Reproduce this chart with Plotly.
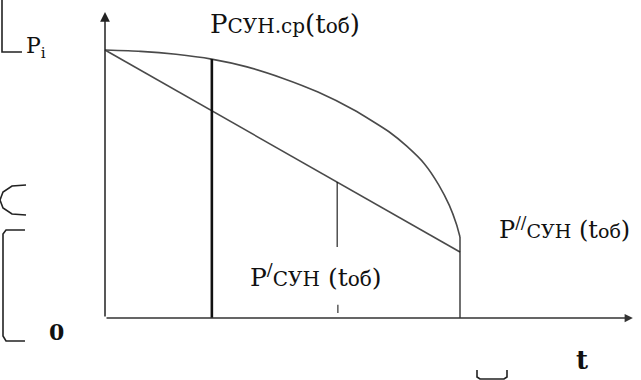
import plotly.graph_objects as go

# ---- data (normalised time t and power P) ----
t_curve = [0.0, 0.1, 0.2, 0.3, 0.4, 0.5, 0.6, 0.7, 0.8, 0.85, 0.9, 0.94, 0.97, 0.99, 1.0]
p_curve = [1.0, 0.995, 0.984, 0.966, 0.937, 0.895, 0.843, 0.777, 0.695, 0.641, 0.575, 0.497, 0.420, 0.350, 0.302]

t_line = [0.0, 1.0]
p_line = [1.0, 0.246]

# vertical guide lines: position, bottom, top
guide_t = [0.301, 0.654, 1.0]
guide_bottom = [0.0, 0.265, 0.0]
guide_top = [0.966, 0.507, 0.302]
guide_width = [2.6, 1.1, 1.2]

tick_t = [0.656]
tick_p = [(0.019, 0.049)]

axis_x_end = 1.487
axis_y_end = 1.142

W, H = 641, 380
x_range = [-105 / 355, (W - 105) / 355]
y_range = [(318 - H) / 268, 318 / 268]

def px(x):
    return x / W

def py(y):
    return 1 - y / H

fig = go.Figure()

fig.add_trace(go.Scatter(x=t_curve, y=p_curve, mode="lines", line=dict(color="#4a4a4a", width=1.6, shape="spline", smoothing=0.6), hoverinfo="skip"))
fig.add_trace(go.Scatter(x=t_line, y=p_line, mode="lines", line=dict(color="#4a4a4a", width=1.6), hoverinfo="skip"))

for t, b, tp, w in zip(guide_t, guide_bottom, guide_top, guide_width):
    fig.add_trace(go.Scatter(x=[t, t], y=[b, tp], mode="lines", line=dict(color="#111", width=w), hoverinfo="skip"))
for t, (b, tp) in zip(tick_t, tick_p):
    fig.add_trace(go.Scatter(x=[t, t], y=[b, tp], mode="lines", line=dict(color="#333", width=1.2), hoverinfo="skip"))

# axes with arrows
fig.add_annotation(x=axis_x_end, y=0, ax=0, ay=0, axref="x", ayref="y", xref="x", yref="y",
                   text="", showarrow=True, arrowhead=2, arrowsize=1.1, arrowwidth=1.5, arrowcolor="#333")
fig.add_annotation(x=0, y=axis_y_end, ax=0, ay=0, axref="x", ayref="y", xref="x", yref="y",
                   text="", showarrow=True, arrowhead=2, arrowsize=1.3, arrowwidth=1.5, arrowcolor="#222")

serif = "DejaVu Serif"
small = '<span style="font-size:{}px">{}</span>'

labels = [
    (0.290, 1.097, "P" + small.format(20, "СУН.ср") + "(t" + small.format(20, "об") + ")", 26),
    (1.104, 0.336, "P<sup>//</sup>" + small.format(19, "СУН") + " (t" + small.format(19, "об") + ")", 24),
    (0.403, 0.157, "P<sup>/</sup>" + small.format(20, "СУН") + " (t" + small.format(20, "об") + ")", 25),
]
for x, y, txt, sz in labels:
    fig.add_annotation(x=x, y=y, xref="x", yref="y", text=txt, showarrow=False,
                       xanchor="left", yanchor="middle", font=dict(family=serif, size=sz, color="#111"))

fig.add_annotation(x=px(24), y=py(47), xref="paper", yref="paper", text="P<sub>i</sub>", showarrow=False,
                   xanchor="left", yanchor="middle", font=dict(family=serif, size=22, color="#111"))
fig.add_annotation(x=px(56), y=py(332), xref="paper", yref="paper", text="<b>0</b>", showarrow=False,
                   xanchor="center", yanchor="middle", font=dict(family=serif, size=22, color="#111"))
fig.add_annotation(x=px(582), y=py(360), xref="paper", yref="paper", text="<b>t</b>", showarrow=False,
                   xanchor="center", yanchor="middle", font=dict(family=serif, size=26, color="#111"))

# scan artefacts (brackets of the surrounding page)
def path(points):
    return "M " + " L ".join(f"{px(x):.5f},{py(y):.5f}" for x, y in points)

deco = [
    [(2, 0), (2, 52), (22, 52)],
    [(26, 185), (12, 186), (3, 192), (0, 200), (3, 208), (12, 214), (26, 215)],
    [(25, 230), (6, 230), (3, 234), (3, 336), (6, 341), (25, 341)],
    [(477, 370), (477, 377), (480, 379), (504, 379), (507, 377), (507, 370)],
]
for pts in deco:
    fig.add_shape(type="path", xref="paper", yref="paper", path=path(pts),
                  line=dict(color="#222", width=1.6))

fig.update_layout(
    width=W, height=H, autosize=False,
    margin=dict(l=0, r=0, t=0, b=0),
    paper_bgcolor="white", plot_bgcolor="white",
    showlegend=False,
    font=dict(family=serif),
    xaxis=dict(range=x_range, visible=False, fixedrange=True),
    yaxis=dict(range=y_range, visible=False, fixedrange=True),
)

fig.write_html("out.html", config={"displayModeBar": False},
               post_script="document.body.style.margin='0';document.body.style.overflow='hidden';")
